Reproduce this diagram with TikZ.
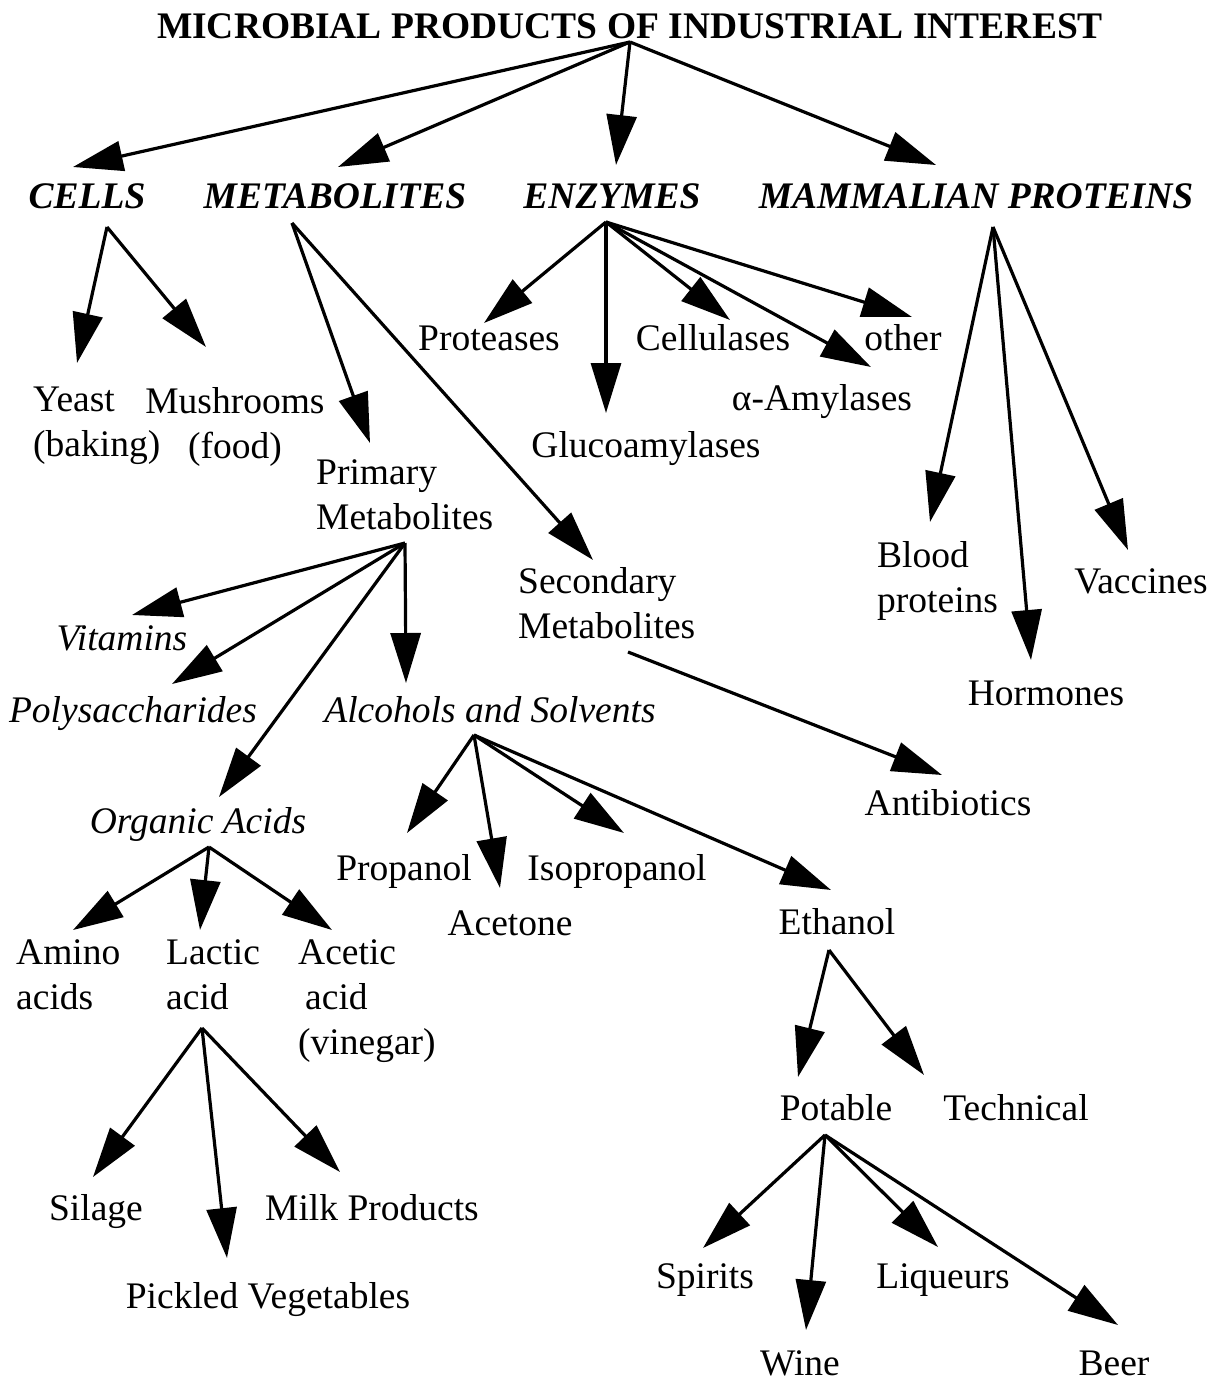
\documentclass[tikz,border=0pt]{standalone}
\usepackage{fontspec}
\setmainfont{Liberation Serif}
\usetikzlibrary{arrows.meta}
\newcommand\diagfont{\fontsize{37.5}{45}\selectfont}
\begin{document}
\begin{tikzpicture}[x=1pt,y=-1pt,
  lbl/.style={anchor=base, inner sep=0pt, font=\diagfont},
  ilbl/.style={anchor=base, inner sep=0pt, font=\diagfont\itshape},
  cat/.style={anchor=base, inner sep=0pt, font=\diagfont\bfseries\itshape},
  mlbl/.style={anchor=north west, align=left, inner sep=0pt, font=\diagfont},
  arr/.style={line width=3.2pt, -{Triangle[length=50pt,width=30pt]}}]
\useasboundingbox[fill=white] (0,0) rectangle (1217,1382);

% ---------- text nodes ----------
\node[lbl,font=\diagfont\bfseries] (title) at (630,38) {MICROBIAL PRODUCTS OF INDUSTRIAL INTEREST};
\node[cat] (cells) at (87,208) {CELLS};
\node[cat] (metab) at (335,208) {METABOLITES};
\node[cat] (enz) at (612,208) {ENZYMES};
\node[cat] (mamm) at (976,208) {MAMMALIAN PROTEINS};

\node[mlbl] (yeast) at (33,387) {Yeast\\(baking)};
\node[mlbl,anchor=north,align=center] (mush) at (235,387) {Mushrooms\\(food)};

\node[lbl] (prot) at (489,350) {Proteases};
\node[lbl] (cell) at (713,350) {Cellulases};
\node[lbl] (other) at (903,350) {other};
\node[lbl] (amyl) at (822,410) {α-Amylases};
\node[lbl] (gluco) at (646,457) {Glucoamylases};

\node[mlbl] (prim) at (316,459) {Primary\\Metabolites};
\node[mlbl] (sec) at (518,567) {Secondary\\Metabolites};
\node[mlbl] (blood) at (877,541) {Blood\\proteins};
\node[lbl] (vacc) at (1141,593) {Vaccines};
\node[lbl] (horm) at (1046,705) {Hormones};

\node[ilbl] (vit) at (122,650) {Vitamins};
\node[ilbl] (poly) at (133,722) {Polysaccharides};
\node[ilbl] (alc) at (490,722) {Alcohols and Solvents};
\node[ilbl] (org) at (198,833) {Organic Acids};
\node[lbl] (anti) at (948,815) {Antibiotics};

\node[lbl] (propa) at (404,880) {Propanol};
\node[lbl] (iso) at (617,880) {Isopropanol};
\node[lbl] (acet) at (510,935) {Acetone};
\node[lbl] (eth) at (837,934) {Ethanol};

\node[mlbl] (amino) at (16,939) {Amino\\acids};
\node[mlbl] (lactic) at (166,939) {Lactic\\acid};
\node[mlbl] (acetic) at (298,939) {Acetic\\\hspace*{7pt}acid\\(vinegar)};

\node[lbl] (pot) at (836,1120) {Potable};
\node[lbl] (tech) at (1016,1120) {Technical};
\node[lbl] (sil) at (96,1220) {Silage};
\node[lbl] (milk) at (372,1220) {Milk Products};
\node[lbl] (pick) at (268,1308) {Pickled Vegetables};
\node[lbl] (spir) at (705,1288) {Spirits};
\node[lbl] (liq) at (943,1288) {Liqueurs};
\node[lbl] (wine) at (800,1375) {Wine};
\node[lbl] (beer) at (1114,1375) {Beer};

% ---------- connector end points ----------
\coordinate (title-out) at (630,42);
\coordinate (cells-in) at (73,167);
\coordinate (metab-in) at (338,167);
\coordinate (enz-in) at (616,165);
\coordinate (mamm-in) at (936,165);

\coordinate (cells-out) at (107,227);
\coordinate (yeast-in) at (77,363);
\coordinate (mush-in) at (206,347);

\coordinate (metab-out) at (292,223);
\coordinate (prim-in) at (370,443);
\coordinate (sec-in) at (593,560);

\coordinate (enz-out) at (606,222);
\coordinate (prot-in) at (484,323);
\coordinate (gluco-in) at (606,413);
\coordinate (cell-in) at (730,320);
\coordinate (amyl-in) at (871,367);
\coordinate (other-in) at (912,317);

\coordinate (mamm-out) at (993,227);
\coordinate (blood-in) at (930,522);
\coordinate (horm-in) at (1031,660);
\coordinate (vacc-in) at (1128,550);

\coordinate (prim-out) at (405,543);
\coordinate (vit-in) at (132,615);
\coordinate (poly-in) at (172,684);
\coordinate (org-in) at (219,797);
\coordinate (alc-in) at (406,683);

\coordinate (sec-out) at (628,652);
\coordinate (anti-in) at (942,775);

\coordinate (alc-out) at (474,735);
\coordinate (propa-in) at (407,833);
\coordinate (acet-in) at (500,888);
\coordinate (iso-in) at (624,833);
\coordinate (eth-in) at (831,890);

\coordinate (org-out) at (209,847);
\coordinate (amino-in) at (73,930);
\coordinate (lactic-in) at (200,930);
\coordinate (acetic-in) at (332,930);

\coordinate (lactic-out) at (202,1028);
\coordinate (sil-in) at (93,1177);
\coordinate (pick-in) at (227,1258);
\coordinate (milk-in) at (340,1172);

\coordinate (eth-out) at (829,950);
\coordinate (pot-in) at (798,1077);
\coordinate (tech-in) at (924,1075);

\coordinate (pot-out) at (825,1135);
\coordinate (spir-in) at (703,1248);
\coordinate (wine-in) at (806,1330);
\coordinate (liq-in) at (938,1247);
\coordinate (beer-in) at (1118,1325);

% ---------- connectors ----------
\foreach \s/\t in {title/cells, title/metab, title/enz, title/mamm,
  cells/yeast, cells/mush,
  metab/prim, metab/sec,
  enz/prot, enz/gluco, enz/cell, enz/amyl, enz/other,
  mamm/blood, mamm/horm, mamm/vacc,
  prim/vit, prim/poly, prim/org, prim/alc,
  sec/anti,
  alc/propa, alc/acet, alc/iso, alc/eth,
  org/amino, org/lactic, org/acetic,
  lactic/sil, lactic/pick, lactic/milk,
  eth/pot, eth/tech,
  pot/spir, pot/wine, pot/liq, pot/beer}
  \draw[arr] (\s-out) -- (\t-in);
\end{tikzpicture}
\end{document}
